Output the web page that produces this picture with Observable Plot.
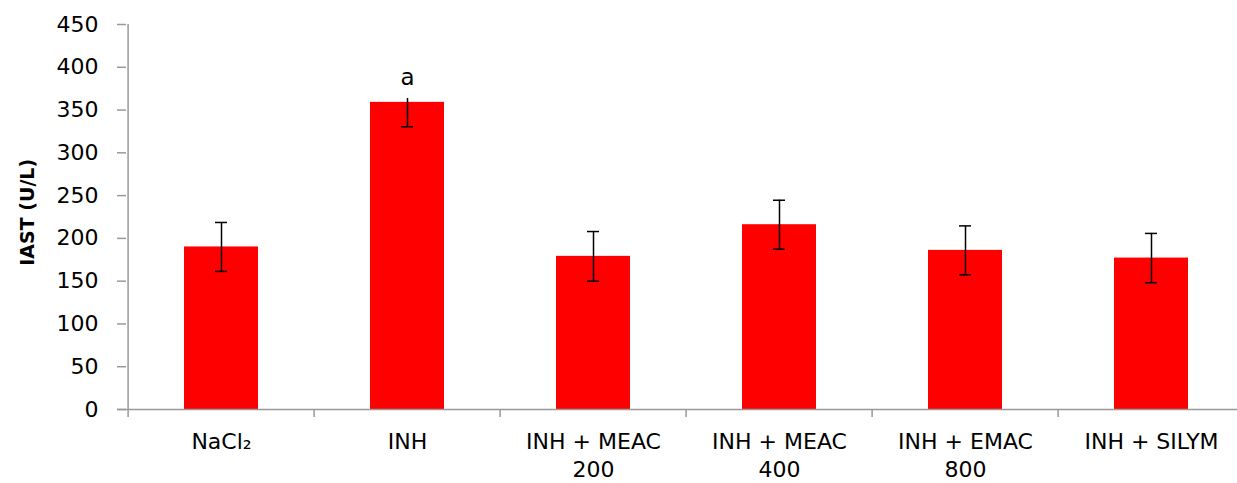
<!DOCTYPE html>
<html>
<head>
<meta charset="utf-8">
<script src="https://cdn.jsdelivr.net/npm/d3@7"></script>
<script src="https://cdn.jsdelivr.net/npm/@observablehq/plot@0.6"></script>
<style>
  html, body { margin: 0; padding: 0; background: white; }
</style>
</head>
<body>
<div id="chart"></div>
<script>
const categories = ["NaCl₂", "INH", "INH + MEAC\n200", "INH + MEAC\n400", "INH + EMAC\n800", "INH + SILYM"];
const means = [190, 359, 179, 216, 186, 177];
const errors = [28.6, 28.5, 29, 28.6, 28.6, 28.8];
const significance = ["", "a", "", "", "", ""];
const yTicks = [0, 50, 100, 150, 200, 250, 300, 350, 400, 450];
const yLabel = "IAST (U/L)";

const data = categories.map((c, i) => ({cat: c, mean: means[i], err: errors[i], sig: significance[i]}));

const axisColor = "#999";
const step = (1246.7 - 126) / 6;

const chart = Plot.plot({
  width: 1237,
  height: 483,
  marginLeft: 126,
  marginRight: 0,
  marginTop: 24,
  marginBottom: 74,
  style: {fontFamily: "DejaVu Sans", background: "white", color: "black"},
  x: {domain: categories, range: [126, 1246.7], paddingInner: 0.6, paddingOuter: 0.3, label: null},
  y: {domain: [0, 450], label: null},
  marks: [
    Plot.barY(data, {x: "cat", y: "mean", fill: "#FF0000"}),
    Plot.ruleY([0], {stroke: axisColor, strokeWidth: 1.5, insetLeft: -9}),
    Plot.ruleX([categories[0]], {x: d => d, y1: -9.4, y2: 450, dx: -step / 2, stroke: axisColor, strokeWidth: 1.5}),
    Plot.ruleX(categories.slice(1), {x: d => d, y1: -9.4, y2: 0, dx: -step / 2, stroke: axisColor, strokeWidth: 1.5}),
    Plot.ruleX(data, {x: "cat", y1: d => d.mean - d.err, y2: d => d.mean + d.err, stroke: "black", strokeWidth: 1.5}),
    Plot.tickY(data, {x: "cat", y: d => d.mean - d.err, insetLeft: 31, insetRight: 31, stroke: "black", strokeWidth: 1.5}),
    Plot.tickY(data, {x: "cat", y: d => d.mean + d.err, insetLeft: 31, insetRight: 31, stroke: "black", strokeWidth: 1.5}),
    Plot.text(data.filter(d => d.sig), {x: "cat", y: d => d.mean + d.err, text: "sig", fontSize: 23, fill: "black", stroke: "white", strokeWidth: 26, strokeLinejoin: "round", dy: 0}),
    Plot.axisY({ticks: yTicks, tickSize: 9, tickPadding: 19, fontSize: 22, stroke: axisColor, strokeWidth: 1.5, label: null}),
    Plot.axisX({tickSize: 0, tickPadding: 20, fontSize: 22, lineHeight: 1.25, label: null}),
    Plot.text([yLabel], {frameAnchor: "left", textAnchor: "middle", rotate: -90, dx: -99, dy: -4.7, fontWeight: "bold", fontSize: 19, fill: "black"})
  ]
});
document.getElementById("chart").appendChild(chart);
</script>
</body>
</html>
